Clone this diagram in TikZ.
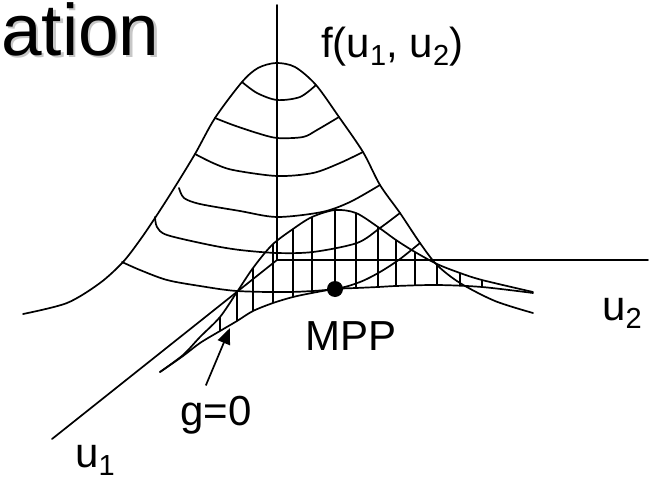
\documentclass[tikz,border=0pt]{standalone}
\usepackage{fontspec}
\setmainfont{Liberation Sans}
\usetikzlibrary{arrows.meta}
\tikzset{
  crv/.style={line width=1.7pt,line join=round,line cap=round},
  lbl/.style={inner sep=0pt,anchor=base west,font=\fontsize{42}{50}\selectfont},
  ttl/.style={inner sep=0pt,anchor=base west,font=\fontsize{73}{80}\selectfont},
  arr/.style={-{Triangle[length=16pt,width=13pt]},line width=1.7pt},
  dot/.style={circle,fill=black,minimum size=16pt,inner sep=0pt}
}
\newcommand{\sbs}[1]{\raisebox{-8pt}{\fontsize{29}{34}\selectfont #1}}

\begin{document}
\begin{tikzpicture}[x=1pt,y=-1pt]
\useasboundingbox (0,0) rectangle (654,479);
\node[ttl,text=black!22] (ttlsh) at (3.5,57.5) {ation};
\node[ttl] (ttl) at (1,55) {ation};
\draw[crv] (277,5) -- (277,260) -- (648,260);
\draw[crv] (277,260) -- (52,439);
\draw[crv] plot[smooth] coordinates {(23,314) (67,303) (100,283) (123,262) (140,240) (155,218) (173,190) (195,154) (215,118) (242,82) (258,68) (276,63) (295,67) (316,85) (339,117) (363,152) (380,185) (400,213) (420,243) (437,265) (460,283) (495,301) (533,313)};
\draw[crv] plot[smooth] coordinates {(242,82) (257,93) (277,100) (300,97) (316,85)};
\draw[crv] plot[smooth] coordinates {(215,118) (233,125) (257,133) (277,138) (303,137) (317,130) (339,117)};
\draw[crv] plot[smooth] coordinates {(195,154) (213,163) (233,170) (277,176) (313,173) (340,163) (363,152)};
\draw[crv] plot[smooth] coordinates {(179,188) (184,198) (200,204) (240,211) (277,217) (322,212) (350,202) (380,185)};
\draw[crv] plot[smooth] coordinates {(155,217) (157,227) (167,235) (210,245) (240,250) (277,253) (313,252) (357,243) (380,228) (400,213)};
\draw[crv] plot[smooth] coordinates {(122,262) (140,270) (167,280) (200,286) (237,291) (290,292) (335,289) (360,282) (380,272) (400,259) (420,243)};
\begin{scope}
\clip plot[smooth] coordinates {(160,372) (183,355) (200,337) (220,317) (237,292) (253,268) (272,245) (293,229) (312,217) (335,210) (356,213) (378,227) (396,240) (415,252) (437,264) (460,273) (482,280) (533,292)}
  -- plot[smooth] coordinates {(533,293) (482,287) (437,285) (396,286) (378,287) (356,288) (335,289) (312,293) (293,297) (273,303) (253,311) (237,321) (220,331) (200,343) (183,356) (160,372)} -- cycle;
\foreach \x in {220,237,253,273,293,312,335,356,378,396,415,437,460,482}
  \draw[crv] (\x,190) -- (\x,390);
\end{scope}
\draw[crv] plot[smooth] coordinates {(160,372) (183,355) (200,337) (220,317) (237,292) (253,268) (272,245) (293,229) (312,217) (335,210) (356,213) (378,227) (396,240) (415,252) (437,264) (460,273) (482,280) (533,292)};
\draw[crv] plot[smooth] coordinates {(160,372) (183,356) (200,343) (220,331) (237,321) (253,311) (273,303) (293,297) (312,293) (335,289) (356,288) (378,287) (396,286) (437,285) (482,287) (533,293)};
\node[dot] (mpp) at (335,289) {};
\node[lbl] (flab) at (321,57) {f(u\sbs{1}, u\sbs{2})};
\node[lbl] (mpplab) at (305,350) {MPP};
\node[lbl] (u2lab) at (602,320) {u\sbs{2}};
\node[lbl] (u1lab) at (75,467) {u\sbs{1}};
\node[lbl] (glab) at (180,425) {g=0};
\coordinate (gtip) at (230,328);
\draw[arr] ([shift={(-10pt,10pt)}]glab.north) -- (gtip);
\end{tikzpicture}
\end{document}
